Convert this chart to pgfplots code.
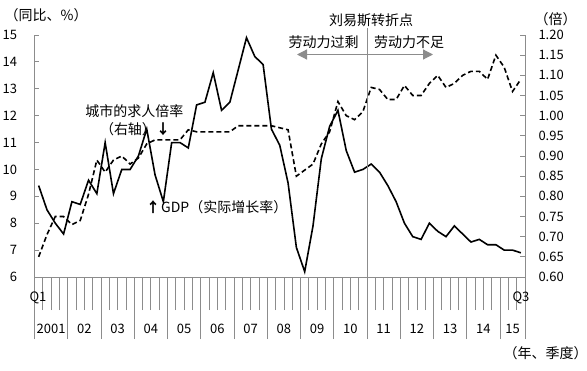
\documentclass[border=0pt]{standalone}
\usepackage{pgfplots}
\pgfplotsset{compat=1.18}
\usepackage{pgfplotstable}
\usepackage{fontspec}
\setmainfont{Noto Sans CJK SC}
\usetikzlibrary{arrows.meta}

\pgfplotstableread{
i gdp ratio
0 9.4 0.65
1 8.5 0.705
2 8.0 0.75
3 7.6 0.75
4 8.8 0.73
5 8.7 0.74
6 9.6 0.805
7 9.1 0.89
8 11.0 0.86
9 9.1 0.89
10 10.0 0.90
11 10.0 0.88
12 10.5 0.895
13 11.5 0.93
14 9.8 0.94
15 8.8 0.94
16 11.0 0.94
17 11.0 0.94
18 10.8 0.965
19 12.4 0.96
20 12.5 0.96
21 13.6 0.96
22 12.2 0.96
23 12.5 0.96
24 13.7 0.975
25 14.9 0.975
26 14.2 0.975
27 13.9 0.975
28 11.5 0.975
29 10.9 0.97
30 9.5 0.965
31 7.1 0.85
32 6.2 0.865
33 7.9 0.88
34 10.4 0.93
35 11.6 0.96
36 12.2 1.035
37 10.7 1.00
38 9.9 0.99
39 10.0 1.01
40 10.2 1.07
41 9.9 1.065
42 9.4 1.04
43 8.8 1.04
44 8.0 1.075
45 7.5 1.05
46 7.4 1.05
47 8.0 1.08
48 7.7 1.10
49 7.5 1.07
50 7.9 1.08
51 7.6 1.10
52 7.3 1.11
53 7.4 1.11
54 7.2 1.09
55 7.2 1.15
56 7.0 1.12
57 7.0 1.06
58 6.9 1.09
}\data

\definecolor{axgray}{HTML}{8C8C8C}

\begin{document}
\begin{tikzpicture}[font=\fontsize{14}{16}\selectfont]
\useasboundingbox (-34.5pt,-93pt) rectangle (552.5pt,277pt);
\pgfplotsset{base/.style={scale only axis, width=490.5pt, height=242pt,
  xmin=-0.5, xmax=58.5, clip=false,
  axis line style={draw=axgray, line width=0.8pt},
  tick style={draw=axgray, line width=0.8pt},
  ticklabel style={font=\fontsize{13}{15}\selectfont},
  /pgf/number format/assume math mode=true}}

% x axis and GDP line
\begin{axis}[base, ymin=6, ymax=15, axis x line*=bottom, axis y line=none,
  tick align=outside,
  xtick={-0.5,3.5,...,55.5,58.5}, xticklabels={},
  minor xtick={-0.5,0.5,...,58.5},
  major tick length=62pt, minor tick length=33pt]
\addplot[black, line width=1.6pt] table[x=i,y=gdp]{\data};
\end{axis}

% left y axis
\begin{axis}[base, ymin=6, ymax=15, axis y line*=left, axis x line=none,
  tick align=inside, ytick={6,7,...,15}, major tick length=5pt,
  yticklabel style={anchor=east, xshift=-14pt}]
\addplot[draw=none] coordinates {(0,6)};
\end{axis}

% right y axis and ratio line
\begin{axis}[base, ymin=0.6, ymax=1.2, axis y line*=right, axis x line=none,
  tick align=inside, major tick length=5pt,
  ytick={0.6,0.65,0.7,0.75,0.8,0.85,0.9,0.95,1.0,1.05,1.1,1.15,1.2},
  yticklabel style={anchor=west, xshift=10pt,
    /pgf/number format/fixed, /pgf/number format/fixed zerofill,
    /pgf/number format/precision=2}]
\addplot[black, line width=1.6pt, dash pattern=on 5pt off 3pt] table[x=i,y=ratio]{\data};
\end{axis}

% Lewis turning point
\draw[axgray, line width=0.8pt] (332.5pt,0) -- (332.5pt,249pt);
\draw[axgray, line width=1.2pt, -{Triangle[length=10pt,width=10pt]}] (332.5pt,222.5pt) -- (262.5pt,222.5pt);
\draw[axgray, line width=1.2pt, -{Triangle[length=10pt,width=10pt]}] (332.5pt,222.5pt) -- (398.5pt,222.5pt);
\node at (336.5pt,257pt) {刘易斯转折点};
\node at (289pt,235pt) {劳动力过剩};
\node at (374.5pt,235pt) {劳动力不足};

% annotations
\node at (100pt,166pt) {城市的求人倍率};
\node at (93.5pt,148pt) {（右轴）};
\node at (128.5pt,148pt) {\textbf{↓}};
\node at (118.5pt,70pt) {\textbf{↑}};
\node[anchor=west, inner sep=0pt] at (126.5pt,70pt) {GDP（实际增长率）};

% axis titles
\node[anchor=west, inner sep=0pt] at (-30pt,262pt) {（同比、\%）};
\node[anchor=west, inner sep=0pt] at (500pt,258pt) {（倍）};
\node at (511pt,-76pt) {（年、季度）};

% x labels
\node[font=\fontsize{13}{15}\selectfont] at (3.5pt,-21pt) {Q1};
\node[font=\fontsize{13}{15}\selectfont] at (486.5pt,-21pt) {Q3};
\foreach \c/\lab in {1.5/2001,5.5/02,9.5/03,13.5/04,17.5/05,21.5/06,25.5/07,29.5/08,33.5/09,37.5/10,41.5/11,45.5/12,49.5/13,53.5/14,57/15}
  \node[font=\fontsize{13}{15}\selectfont] at ({(\c+0.5)*8.3136pt},-52pt) {\lab};
\end{tikzpicture}
\end{document}
